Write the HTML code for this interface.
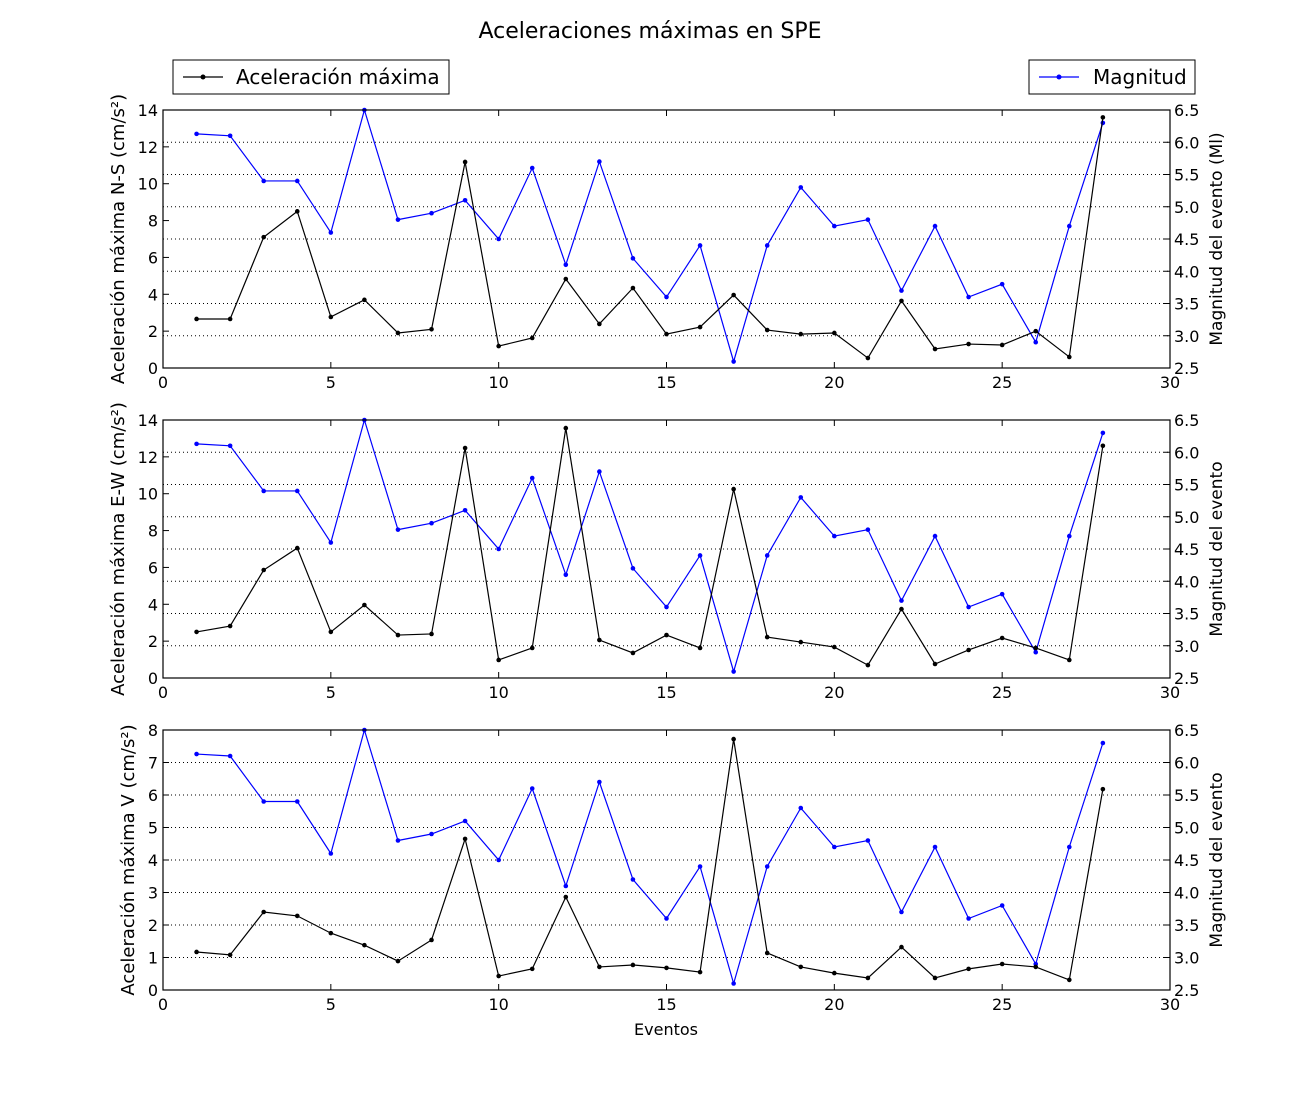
<!DOCTYPE html>
<html><head><meta charset="utf-8"><style>
body{margin:0;background:#fff;}
svg{display:block;font-family:"DejaVu Sans","Liberation Sans",sans-serif;}
</style></head><body>
<svg id="chart" width="1300" height="1100" xmlns="http://www.w3.org/2000/svg">
<rect width="1300" height="1100" fill="#fff"/>
<text x="650" y="38" font-size="22" text-anchor="middle">Aceleraciones máximas en SPE</text>
<g>
<rect x="173" y="60" width="276" height="34" fill="#fff" stroke="#000"/>
<line x1="183" y1="77" x2="223" y2="77" stroke="#000" stroke-width="1.2"/><circle cx="203" cy="77" r="2.5"/>
<text x="236" y="84" font-size="20">Aceleración máxima</text></g>
<g>
<rect x="1029" y="60" width="166" height="34" fill="#fff" stroke="#000"/>
<line x1="1039" y1="77" x2="1079" y2="77" stroke="#00f" stroke-width="1.2"/><circle cx="1059" cy="77" r="2.5" fill="#00f"/>
<text x="1093" y="84" font-size="20">Magnitud</text></g>
<text x="666" y="1035" font-size="16" text-anchor="middle">Eventos</text>
</svg>
<script>
const events=[1,2,3,4,5,6,7,8,9,10,11,12,13,14,15,16,17,18,19,20,21,22,23,24,25,26,27,28];
const magnitude=[6.13,6.1,5.4,5.4,4.6,6.5,4.8,4.9,5.1,4.5,5.6,4.1,5.7,4.2,3.6,4.4,2.6,4.4,5.3,4.7,4.8,3.7,4.7,3.6,3.8,2.9,4.7,6.3];
const accNS=[2.66,2.66,7.1,8.5,2.77,3.7,1.9,2.1,11.18,1.19,1.63,4.83,2.39,4.34,1.84,2.22,3.96,2.06,1.84,1.9,0.54,3.64,1.03,1.3,1.25,2.0,0.6,13.6];
const accEW=[2.5,2.82,5.86,7.05,2.5,3.96,2.33,2.39,12.48,0.98,1.63,13.56,2.06,1.36,2.33,1.63,10.25,2.22,1.95,1.68,0.7,3.74,0.76,1.52,2.17,1.63,0.98,12.6];
const accV=[1.17,1.08,2.4,2.28,1.75,1.38,0.89,1.54,4.65,0.43,0.65,2.86,0.71,0.77,0.68,0.55,7.72,1.14,0.71,0.52,0.37,1.32,0.37,0.65,0.8,0.71,0.31,6.18];
const xTicks=[0,5,10,15,20,25,30];
const magTicks=[2.5,3.0,3.5,4.0,4.5,5.0,5.5,6.0,6.5];
const ticks14=[0,2,4,6,8,10,12,14];
const ticks8=[0,1,2,3,4,5,6,7,8];
const panels=[
 {top:110,bot:368,acc:accNS,ymax:14,yt:ticks14,yl:"Aceleración máxima N-S (cm/s²)",rl:"Magnitud del evento (Ml)",n:"ns"},
 {top:420,bot:678,acc:accEW,ymax:14,yt:ticks14,yl:"Aceleración máxima E-W (cm/s²)",rl:"Magnitud del evento",n:"ew"},
 {top:730,bot:990,acc:accV,ymax:8,yt:ticks8,yl:"Aceleración máxima V (cm/s²)",rl:"Magnitud del evento",n:"v"}];
const NS="http://www.w3.org/2000/svg",svg=document.getElementById('chart');
const L=163,R=1170;
const xs=v=>L+(v/30)*(R-L);
function mk(t,a,p){const e=document.createElementNS(NS,t);for(const k in a)e.setAttribute(k,a[k]);(p||svg).appendChild(e);return e;}
panels.forEach(P=>{
 const g=mk('g',{});
 
 
 const ys=v=>P.bot-(v/P.ymax)*(P.bot-P.top);
 const ms=v=>P.bot-((v-2.5)/4)*(P.bot-P.top);
 magTicks.forEach(t=>{const y=ms(t);
  if(t>2.5&&t<6.5)mk('line',{x1:L,x2:R,y1:y,y2:y,stroke:'#000','stroke-dasharray':'1,3','stroke-width':1},g);
  mk('line',{x1:R,x2:R-6,y1:y,y2:y,stroke:'#000'},g);
  const tx=mk('text',{x:R+4,y:y+6,'font-size':16},g);tx.textContent=t.toFixed(1);});
 P.yt.forEach(t=>{const y=ys(t);mk('line',{x1:L,x2:L+6,y1:y,y2:y,stroke:'#000'},g);
  const tx=mk('text',{x:L-5,y:y+6,'font-size':16,'text-anchor':'end'},g);tx.textContent=t;});
 xTicks.forEach(t=>{const x=xs(t);mk('line',{x1:x,x2:x,y1:P.bot,y2:P.bot-6,stroke:'#000'},g);mk('line',{x1:x,x2:x,y1:P.top,y2:P.top+6,stroke:'#000'},g);
  const tx=mk('text',{x:x,y:P.bot+20,'font-size':16,'text-anchor':'middle'},g);tx.textContent=t;});
 const mp=mk('polyline',{points:events.map((e,i)=>xs(e)+','+ms(magnitude[i])).join(' '),fill:'none',stroke:'#00f','stroke-width':1.2},g);
 
 
 events.forEach((e,i)=>mk('circle',{cx:xs(e),cy:ms(magnitude[i]),r:2.3,fill:'#00f'},g));
 const ap=mk('polyline',{points:events.map((e,i)=>xs(e)+','+ys(P.acc[i])).join(' '),fill:'none',stroke:'#000','stroke-width':1.2},g);
 
 
 events.forEach((e,i)=>mk('circle',{cx:xs(e),cy:ys(P.acc[i]),r:2.3,fill:'#000'},g));
 mk('rect',{x:L,y:P.top,width:R-L,height:P.bot-P.top,fill:'none',stroke:'#000','stroke-width':1.2},g);
 const cy=(P.top+P.bot)/2;
 const yl=mk('text',{x:0,y:0,'font-size':18,'text-anchor':'middle',transform:`translate(${P.n==='v'?134:124},${cy}) rotate(-90)`},g);yl.textContent=P.yl;
 
 
 const rl=mk('text',{x:0,y:0,'font-size':17,'text-anchor':'middle',transform:`translate(1222,${cy}) rotate(-90)`},g);rl.textContent=P.rl;
 
 
});
</script>
</body></html>
